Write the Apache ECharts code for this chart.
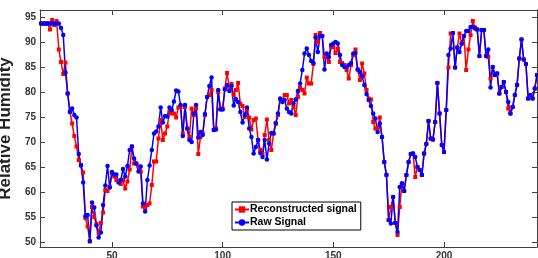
<!DOCTYPE html>
<html>
<head>
<meta charset="utf-8">
<script src="https://cdn.jsdelivr.net/npm/echarts@6/dist/echarts.min.js"></script>
<style>
  html, body { margin: 0; padding: 0; background: #fff; }
  #chart { width: 538px; height: 258px; }
</style>
</head>
<body>
<div id="chart"></div>
<script>
// samples run from x = 18 to x = 242, one per step
const startX = 18
const xTicks = [50, 100, 150, 200]
const yTicks = [50, 55, 60, 65, 70, 75, 80, 85, 90, 95]

const reconstructed = [
  93.8, 93.8, 93.8, 93.8, 92.6, 94.5, 93.5, 94.3, 88.6, 86.1,
  83.7, 86, 79.8, 76.2, 73.8, 71.3, 69.2, 66.5, 65.5, 64,
  54.9, 53.2, 50.2, 57.1, 55.1, 53.7, 51.9, 53.9, 56, 60.5,
  60.3, 61.2, 63.8, 63.2, 62.5, 62.2, 61.7, 62.5, 60.8, 62.2,
  64.6, 69.2, 65.8, 65.8, 65.2, 64.2, 57.2, 56.9, 57.5, 57.8,
  61.5, 66.2, 66.2, 70.8, 74.5, 70.5, 71.8, 73.2, 76.2, 75.8,
  75.8, 75, 77, 77.1, 71.8, 77.1, 72.8, 71.1, 76.8, 75.5,
  76.8, 67.7, 71.1, 71.8, 75.5, 79.1, 79.5, 80.5, 72.5, 72.8,
  80.1, 76.8, 76.8, 80.8, 83.9, 81, 81.7, 79.5, 80.5, 81.9,
  77.7, 77.3, 75.1, 76.6, 75, 72.6, 74.5, 74.8, 70.5, 68.5,
  67.7, 71.5, 74.6, 70.5, 68.5, 71.8, 73.7, 75.5, 78.6, 78.5,
  79.5, 79.5, 77.8, 78.5, 77.1, 75.5, 79.1, 81, 80.5, 79.8,
  83, 81.8, 81.8, 85.7, 91.5, 90.1, 91.9, 91.3, 87.1, 87.2,
  86.1, 89.1, 89.1, 87.9, 88.8, 86.1, 85.9, 85.5, 84.5, 82.8,
  85.5, 87.5, 88.6, 84.6, 82.5, 85.8, 83.8, 80.5, 78.8, 78.6,
  74.1, 72.8, 72.8, 75, 71.1, 66.1, 63.5, 54.5, 57.1, 59.1,
  53.9, 51.5, 57.1, 61.8, 60.3, 63.5, 66.1, 67.7, 67.8, 63.1,
  65.1, 64.5, 63.5, 67.8, 69.7, 74.3, 70.8, 70.6, 74.1, 81.9,
  75.8, 69.5, 68.1, 76.5, 85, 91.8, 91.9, 85, 89, 91.8,
  89.8, 91.3, 84.5, 88.6, 91.5, 94.3, 93, 92.6, 87.3, 92.5,
  92.5, 87.3, 87.1, 82.8, 85.1, 83.5, 83.8, 79.8, 81.1, 82.1,
  80.1, 76.8, 75.8, 77.1, 79.5, 81.5, 86.8, 90.6, 86.6, 85.7,
  78.8, 79.5, 78.8, 80.8, 83.5
]

const raw = [
  93.8, 93.8, 93.8, 93.8, 93.8, 93.8, 93.8, 93.8, 93.8, 92.9,
  91.5, 84, 79.8, 76.1, 76.8, 75.5, 75, 67.7, 65.4, 62,
  55.3, 55.5, 50.3, 58, 57, 53.4, 51, 52, 57.5, 61.4,
  65.3, 61, 64.1, 63.6, 63.6, 62, 62.5, 64.7, 63.2, 65.3,
  68.5, 69.2, 66.8, 65.8, 64.2, 65.2, 57.8, 56.2, 62.5, 65.4,
  68.5, 71.8, 72.2, 73.2, 77, 74, 75.3, 75.2, 77, 76.5,
  78.2, 80.4, 80.2, 77.5, 71.3, 77.5, 72.8, 70.5, 70.1, 75.8,
  77.5, 71, 72.1, 71.5, 75.7, 79.1, 81.3, 83, 72.5, 72.6,
  80.5, 76.6, 76.6, 80.6, 81.5, 80.3, 81.3, 77.4, 78.7, 78.1,
  76.1, 74, 75.5, 77, 72.8, 71.1, 67.8, 69.1, 70.5, 67.9,
  67.1, 70.5, 66.6, 69.8, 71.9, 71.8, 73.9, 75.8, 78.8, 78.1,
  78.5, 76.8, 76.1, 75.8, 77.8, 78.6, 80.3, 81.8, 84.5, 87.8,
  88.8, 87.5, 86.3, 85.9, 91, 88.1, 91.3, 91.3, 84.6, 87.8,
  87.1, 89.5, 89.8, 90.1, 89.8, 87.5, 85.5, 85.1, 85.1, 85.5,
  85.9, 87.8, 87.9, 84.6, 84.1, 83.3, 81.5, 79.7, 78.5, 77.3,
  75.8, 74.8, 72.1, 73.8, 71.1, 66.1, 63.5, 54.5, 53.8, 59.1,
  53.9, 52.1, 61.1, 61.8, 60.3, 63.5, 66.1, 67.7, 67.8, 67.1,
  65.1, 64.5, 63.5, 67.8, 69.7, 74.3, 70.8, 70.6, 74.1, 81.9,
  75.8, 69.5, 68.1, 76.5, 87.5, 88.8, 91.9, 85, 89, 88.1,
  89.8, 91.3, 92.3, 92.3, 93.1, 93.1, 92.8, 92.6, 87.3, 92.5,
  92.5, 87.3, 88.6, 81, 85.1, 83.5, 83.8, 79.8, 81.1, 82.1,
  80.1, 78.1, 75.8, 77.1, 79.5, 81.5, 86.8, 90.6, 86.6, 85.7,
  78.8, 79.5, 78.8, 80.8, 83.5
]

const toPairs = (arr) => arr.map((v, i) => [startX + i, v])

const axisGrey = '#404040'
const tickFont = { fontSize: 10, fontWeight: 'bold', color: '#333', fontFamily: 'Liberation Sans, Arial, sans-serif' }

function xAxisDef (pos, showLabel) {
  return {
    type: 'value', position: pos, min: 17.5, max: 242,
    axisLine: { show: true, onZero: false, lineStyle: { color: axisGrey, width: 1 } },
    axisTick: { show: true, inside: true, length: 5, customValues: xTicks, lineStyle: { color: axisGrey } },
    axisLabel: Object.assign({ show: showLabel, margin: 4, customValues: xTicks }, tickFont),
    splitLine: { show: false }
  }
}

function yAxisDef (pos, showLabel) {
  return {
    type: 'value', position: pos, min: 49.1, max: 96.5,
    axisLine: { show: true, onZero: false, lineStyle: { color: axisGrey, width: 1 } },
    axisTick: { show: true, inside: true, length: 5, customValues: yTicks, lineStyle: { color: axisGrey } },
    axisLabel: Object.assign({ show: showLabel, margin: 4, customValues: yTicks }, tickFont),
    splitLine: { show: false }
  }
}

const chart = echarts.init(document.getElementById('chart'), null, { renderer: 'canvas' })
const yLeft = yAxisDef('left', true)
yLeft.name = 'Relative Humidity'
yLeft.nameLocation = 'middle'
yLeft.nameGap = 24
yLeft.nameTextStyle = { fontSize: 17, fontWeight: 'bold', color: '#222', fontFamily: 'Liberation Sans, Arial, sans-serif' }

chart.setOption({
  animation: false,
  grid: { left: 40, top: 10, right: 1, bottom: 11, containLabel: false, outerBoundsMode: 'none' },
  xAxis: [xAxisDef('bottom', true), xAxisDef('top', false)],
  yAxis: [yLeft, yAxisDef('right', false)],
  legend: {
    orient: 'vertical',
    left: 232, top: 202,
    padding: [2, 4, 2, 2],
    itemGap: 2,
    itemWidth: 14, itemHeight: 8,
    backgroundColor: '#fff',
    borderColor: '#000', borderWidth: 1, borderRadius: 0,
    textStyle: { fontSize: 10.5, fontWeight: 'bold', color: '#000', padding: [0, 0, 0, -4], fontFamily: 'Liberation Sans, Arial, sans-serif' },
    data: ['Reconstructed signal', 'Raw Signal']
  },
  series: [{
    name: 'Reconstructed signal',
    type: 'line',
    data: toPairs(reconstructed),
    symbol: 'rect', symbolSize: 4,
    showAllSymbol: true,
    lineStyle: { color: '#ff0000', width: 1.5 },
    itemStyle: { color: '#ff0000' }
  }, {
    name: 'Raw Signal',
    type: 'line',
    data: toPairs(raw),
    symbol: 'circle', symbolSize: 4.5,
    showAllSymbol: true,
    lineStyle: { color: '#0000ff', width: 1.5 },
    itemStyle: { color: '#0000ff' }
  }]
})
</script>
</body>
</html>
